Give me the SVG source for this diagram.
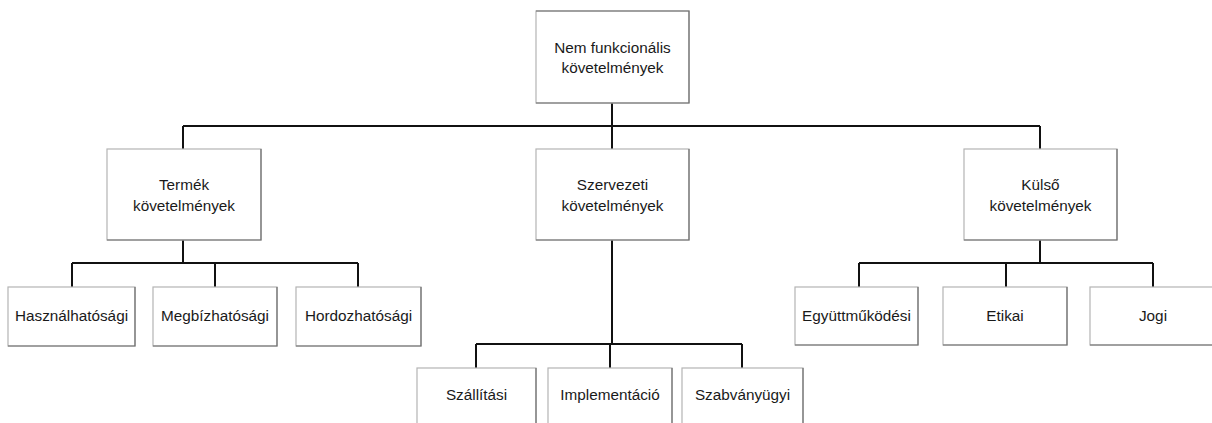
<svg xmlns="http://www.w3.org/2000/svg" width="1212" height="423" viewBox="0 0 1212 423">
  <style>
    .box { fill: #ffffff; stroke: #b4b4b4; stroke-width: 1.2; }
    .shade { fill: none; stroke: #6e6e6e; stroke-width: 1.2; }
    .lbl { font-family: "Liberation Sans", Arial, sans-serif; font-size: 15.3px; fill: #1a1a1a; text-anchor: middle; }
    .wire { fill: none; stroke: #111111; stroke-width: 2; }
  </style>

  <!-- connectors -->
  <g id="connectors">
    <!-- root to second level -->
    <path class="wire" d="M612,103 V126 M183,126 H1040 M183,126 V149 M612,126 V149 M1040,126 V149"/>
    <!-- product requirements to children -->
    <path class="wire" d="M183,240 V263 M72,263 H358 M72,263 V287 M215,263 V287 M358,263 V287"/>
    <!-- organisational requirements to children -->
    <path class="wire" d="M612,240 V344 M476,344 H742 M476,344 V368 M610,344 V368 M742,344 V368"/>
    <!-- external requirements to children -->
    <path class="wire" d="M1040,240 V263 M859,263 H1153 M859,263 V287 M1006,263 V287 M1153,263 V287"/>
  </g>

  <!-- root -->
  <g id="nem-funkcionalis">
    <rect class="box" x="536" y="11" width="153" height="92"/>
    <path class="shade" d="M536,11 H689 V103 H536"/>
    <text class="lbl" x="612.5" y="53">Nem funkcionális</text>
    <text class="lbl" x="612.5" y="73">követelmények</text>
  </g>

  <!-- second level -->
  <g id="termek">
    <rect class="box" x="107" y="149" width="154" height="91"/>
    <path class="shade" d="M261,149 V240 H107"/>
    <text class="lbl" x="184" y="190">Termék</text>
    <text class="lbl" x="184" y="211">követelmények</text>
  </g>
  <g id="szervezeti">
    <rect class="box" x="536" y="149" width="153" height="91"/>
    <path class="shade" d="M689,149 V240 H536"/>
    <text class="lbl" x="612.5" y="190">Szervezeti</text>
    <text class="lbl" x="612.5" y="211">követelmények</text>
  </g>
  <g id="kulso">
    <rect class="box" x="964" y="149" width="153" height="91"/>
    <path class="shade" d="M1117,149 V240 H964"/>
    <text class="lbl" x="1040.5" y="190">Külső</text>
    <text class="lbl" x="1040.5" y="211">követelmények</text>
  </g>

  <!-- product requirement kinds -->
  <g id="hasznalhatosagi">
    <rect class="box" x="8" y="287" width="127" height="59"/>
    <path class="shade" d="M135,287 V346 H8"/>
    <text class="lbl" x="71.5" y="321">Használhatósági</text>
  </g>
  <g id="megbizhatosagi">
    <rect class="box" x="153" y="287" width="124" height="59"/>
    <path class="shade" d="M277,287 V346 H153"/>
    <text class="lbl" x="215" y="321">Megbízhatósági</text>
  </g>
  <g id="hordozhatosagi">
    <rect class="box" x="296" y="287" width="125" height="59"/>
    <path class="shade" d="M421,287 V346 H296"/>
    <text class="lbl" x="358.5" y="321">Hordozhatósági</text>
  </g>

  <!-- organisational requirement kinds -->
  <g id="szallitasi">
    <rect class="box" x="417" y="368" width="119" height="70"/>
    <path class="shade" d="M536,368 V438"/>
    <text class="lbl" x="476.5" y="400">Szállítási</text>
  </g>
  <g id="implementacio">
    <rect class="box" x="548" y="368" width="124" height="70"/>
    <path class="shade" d="M672,368 V438"/>
    <text class="lbl" x="610" y="400">Implementáció</text>
  </g>
  <g id="szabvanyugyi">
    <rect class="box" x="682" y="368" width="121" height="70"/>
    <path class="shade" d="M803,368 V438"/>
    <text class="lbl" x="742.5" y="400">Szabványügyi</text>
  </g>

  <!-- external requirement kinds -->
  <g id="egyuttmukodesi">
    <rect class="box" x="795" y="287" width="123" height="58"/>
    <path class="shade" d="M918,287 V345 H795"/>
    <text class="lbl" x="856.5" y="321">Együttműködési</text>
  </g>
  <g id="etikai">
    <rect class="box" x="943" y="287" width="124" height="58"/>
    <path class="shade" d="M1067,287 V345 H943"/>
    <text class="lbl" x="1005" y="321">Etikai</text>
  </g>
  <g id="jogi">
    <rect class="box" x="1090" y="287" width="126" height="58"/>
    <path class="shade" d="M1216,345 H1090"/>
    <text class="lbl" x="1153" y="321">Jogi</text>
  </g>
</svg>
